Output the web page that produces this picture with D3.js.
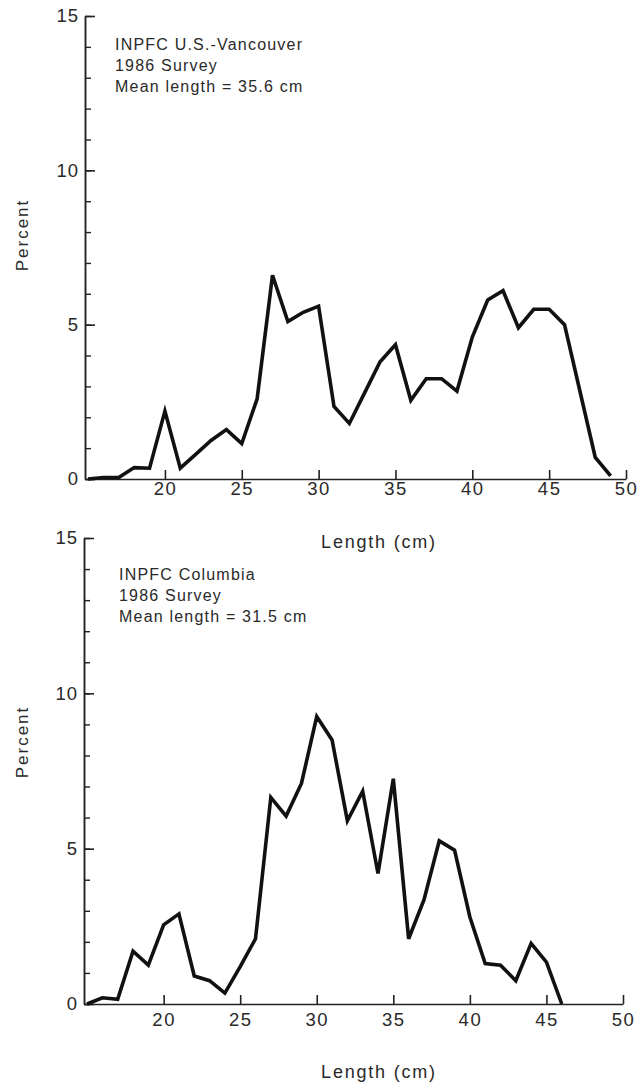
<!DOCTYPE html>
<html><head><meta charset="utf-8">
<script src="https://cdn.jsdelivr.net/npm/d3@7"></script>
<style>
body{margin:0;background:#fff;}
text{font-family:"Liberation Sans",Arial,sans-serif;fill:#2a2a2a;}
</style></head>
<body>
<svg id="c" width="639" height="1088"></svg>
<script>
// Data
const lengthsTop = [15,16,17,18,19,20,21,22,23,24,25,26,27,28,29,30,31,32,33,34,35,36,37,38,39,40,41,42,43,44,45,46,47,48,49];
const percentTop = [0,0.05,0.05,0.37,0.35,2.2,0.35,0.8,1.25,1.6,1.15,2.6,6.6,5.1,5.4,5.6,2.35,1.8,2.8,3.8,4.35,2.55,3.25,3.25,2.85,4.6,5.8,6.1,4.9,5.5,5.5,5.0,2.85,0.7,0.1];
const lengthsBottom = [15,16,17,18,19,20,21,22,23,24,25,26,27,28,29,30,31,32,33,34,35,36,37,38,39,40,41,42,43,44,45,46];
const percentBottom = [0,0.2,0.15,1.7,1.25,2.55,2.9,0.9,0.75,0.35,1.2,2.1,6.65,6.05,7.1,9.25,8.5,5.9,6.85,4.2,7.25,2.1,3.35,5.25,4.95,2.8,1.3,1.25,0.75,1.95,1.35,0];
const xTicks = [20,25,30,35,40,45,50];
const yTicks = [0,5,10,15];
const yMinorTicks = d3.range(0,16,1);
const labelsTop = ["INPFC U.S.-Vancouver","1986 Survey","Mean length = 35.6 cm"];
const labelsBottom = ["INPFC Columbia","1986 Survey","Mean length = 31.5 cm"];

const svg = d3.select("#c");

function panel(cfg){
  const x = d3.scaleLinear().domain([14.8,50]).range([cfg.x0,cfg.x1]);
  const y = d3.scaleLinear().domain([0,15]).range([cfg.y0,cfg.y1]);
  const g = svg.append("g");

  // minor y ticks
  g.append("g").attr("transform",`translate(${cfg.x0},0)`)
    .call(d3.axisLeft(y).tickValues(yMinorTicks).tickSize(-6).tickSizeOuter(0).tickFormat(""))
    .call(a=>a.selectAll("path,line").attr("stroke","#222").attr("stroke-width",1.4));
  // major y ticks
  const ya = g.append("g").attr("transform",`translate(${cfg.x0},0)`)
    .call(d3.axisLeft(y).tickValues(yTicks).tickSize(-10).tickSizeOuter(0).tickPadding(6));
  ya.select(".domain").attr("stroke","#222").attr("stroke-width",1.6);
  ya.selectAll("line").attr("stroke","#222").attr("stroke-width",1.6);
  ya.selectAll("text").attr("font-size",18.5).attr("letter-spacing","1px")
    .style("font-family","Liberation Sans, Arial, sans-serif").style("fill","#2a2a2a");

  // x axis
  const xa = g.append("g").attr("transform",`translate(0,${cfg.y0})`)
    .call(d3.axisBottom(x).tickValues(xTicks).tickSize(-9).tickSizeOuter(0).tickPadding(cfg.xPad));
  xa.select(".domain").attr("stroke","#222").attr("stroke-width",1.6);
  xa.selectAll("line").attr("stroke","#222").attr("stroke-width",1.6);
  xa.selectAll("text").attr("font-size",18.5).attr("letter-spacing","1.5px")
    .style("font-family","Liberation Sans, Arial, sans-serif").style("fill","#2a2a2a");

  // line
  const line = d3.line().x(d=>x(d[0])).y(d=>y(d[1]));
  g.append("path").datum(cfg.lengths.map((l,i)=>[l,cfg.values[i]]))
    .attr("d",line).attr("fill","none").attr("stroke","#111")
    .attr("stroke-width",3.6).attr("stroke-linejoin","miter").attr("stroke-miterlimit",4);

  // annotation
  const t = g.append("text").attr("x",cfg.tx).attr("y",cfg.ty).attr("font-size",16).attr("letter-spacing","1.2px");
  cfg.labels.forEach((s,i)=>t.append("tspan").attr("x",cfg.tx).attr("dy",i===0?0:21).text(s));

  // axis titles
  g.append("text").attr("transform",`translate(${cfg.px},${cfg.py}) rotate(-90)`)
    .attr("text-anchor","middle").attr("font-size",17).attr("letter-spacing","2px").text("Percent");
  g.append("text").attr("x",cfg.lx).attr("y",cfg.ly).attr("text-anchor","middle")
    .attr("font-size",18).attr("letter-spacing","1.8px").text("Length (cm)");
}

panel({x0:85,x1:626,y0:479,y1:16,xPad:3,lengths:lengthsTop,values:percentTop,labels:labelsTop,
  tx:115,ty:50,px:28,py:235,lx:379,ly:548});
panel({x0:84,x1:623,y0:1004,y1:538,xPad:9,lengths:lengthsBottom,values:percentBottom,labels:labelsBottom,
  tx:119,ty:580,px:28,py:742,lx:379,ly:1078});
</script>
</body></html>
